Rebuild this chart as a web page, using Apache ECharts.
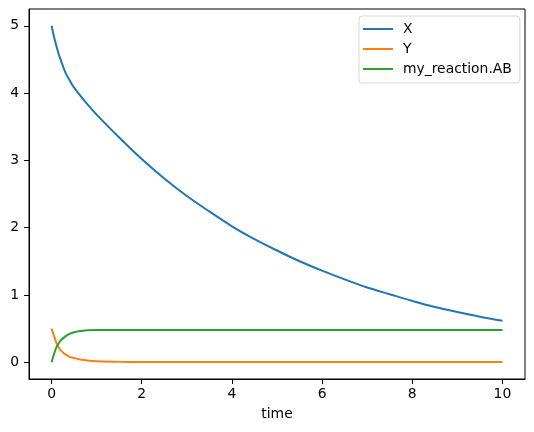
<!DOCTYPE html>
<html>
<head>
<meta charset="utf-8">
<script src="https://cdn.jsdelivr.net/npm/echarts@6/dist/echarts.min.js"></script>
<style>
  html, body { margin: 0; padding: 0; background: #fff; }
  #chart { width: 534px; height: 432px; }
</style>
</head>
<body>
<div id="chart"></div>
<script>
// values
const xTimes = [0, 0.05, 0.1, 0.15, 0.2, 0.3, 0.4, 0.5, 0.75, 1, 1.5, 2, 2.5, 3, 3.5, 4, 4.5, 5, 5.5, 6, 6.5, 7, 7.5, 8, 8.5, 9, 9.5, 10]
const xValues = [5.0, 4.85, 4.72, 4.60, 4.50, 4.32, 4.19, 4.08, 3.87, 3.68, 3.34, 3.02, 2.73, 2.47, 2.24, 2.02, 1.83, 1.66, 1.50, 1.36, 1.23, 1.11, 1.01, 0.91, 0.82, 0.745, 0.675, 0.615]

const smallTimes = [0, 0.05, 0.1, 0.15, 0.2, 0.3, 0.4, 0.5, 0.6, 0.8, 1, 1.5, 2, 3, 4, 6, 8, 10]
const yValues = [0.5, 0.40, 0.30, 0.23, 0.18, 0.12, 0.08, 0.06, 0.045, 0.025, 0.015, 0.006, 0.003, 0.002, 0.002, 0.002, 0.002, 0.002]
const abValues = [0, 0.11, 0.21, 0.27, 0.32, 0.38, 0.42, 0.445, 0.46, 0.473, 0.478, 0.48, 0.48, 0.48, 0.48, 0.48, 0.48, 0.48]

const xTicks = [0, 2, 4, 6, 8, 10]
const yTicks = [0, 1, 2, 3, 4, 5]

const pairs = (ts, vs) => ts.map((t, i) => [t, vs[i]])

const chart = echarts.init(document.getElementById('chart'))

const font = 'DejaVu Sans'
const lineSeries = (name, color, data) => ({
  name,
  type: 'line',
  data,
  showSymbol: false,
  smooth: 0.25,
  lineStyle: { color, width: 2 },
  itemStyle: { color },
  animation: false
})

chart.setOption({
  animation: false,
  textStyle: { fontFamily: font },
  grid: {
    left: 29, right: 9, top: 9, bottom: 53,
    show: true, borderColor: '#000', borderWidth: 1
  },
  legend: {
    orient: 'vertical',
    left: 359,
    top: 16,
    padding: [6, 8, 7, 4],
    itemWidth: 30,
    itemHeight: 2,
    itemGap: 6,
    icon: 'rect',
    borderColor: '#d6d6d6',
    borderWidth: 1,
    borderRadius: 3,
    backgroundColor: 'rgba(255,255,255,0.8)',
    textStyle: { fontFamily: font, fontSize: 13.9, color: '#000', lineHeight: 14, padding: [0, 0, 0, 5] },
    data: ['X', 'Y', 'my_reaction.AB']
  },
  xAxis: {
    type: 'value',
    min: -0.5,
    max: 10.5,
    name: 'time',
    nameLocation: 'middle',
    nameGap: 28,
    nameTextStyle: { fontFamily: font, fontSize: 13.9, color: '#000' },
    splitLine: { show: false },
    axisLine: { show: true, onZero: false, lineStyle: { color: '#000', width: 1 } },
    axisTick: { show: true, length: 5, customValues: xTicks, lineStyle: { color: '#000' } },
    axisLabel: { customValues: xTicks, margin: 8, fontFamily: font, fontSize: 13.9, color: '#000' }
  },
  yAxis: {
    type: 'value',
    min: -0.25,
    max: 5.25,
    splitLine: { show: false },
    axisLine: { show: true, onZero: false, lineStyle: { color: '#000', width: 1 } },
    axisTick: { show: true, length: 5, customValues: yTicks, lineStyle: { color: '#000' } },
    axisLabel: { customValues: yTicks, margin: 10, fontFamily: font, fontSize: 13.9, color: '#000' }
  },
  series: [
    lineSeries('X', '#1f77b4', pairs(xTimes, xValues)),
    lineSeries('Y', '#ff7f0e', pairs(smallTimes, yValues)),
    lineSeries('my_reaction.AB', '#2ca02c', pairs(smallTimes, abValues))
  ]
})
</script>
</body>
</html>
